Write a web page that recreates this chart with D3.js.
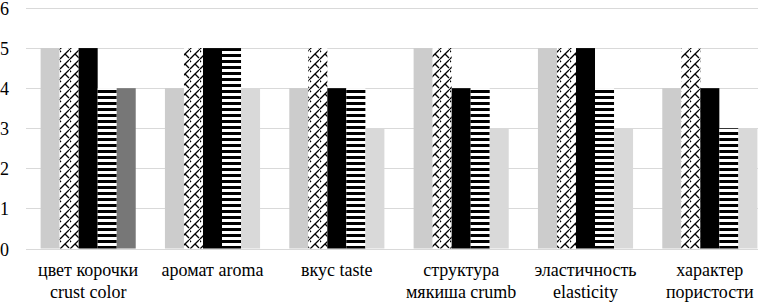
<!DOCTYPE html>
<html>
<head>
<meta charset="utf-8">
<script src="https://cdn.jsdelivr.net/npm/d3@7"></script>
</head>
<body style="margin:0">
<svg id="chart" width="758" height="303" style="font-family: 'Times New Roman', 'Liberation Serif', Times, serif"></svg>
<script>
// categories (two-line labels)
const categories = [
  ["цвет корочки", "crust color"],
  ["аромат aroma"],
  ["вкус taste"],
  ["структура", "мякиша crumb"],
  ["эластичность", "elasticity"],
  ["характер", "пористости"]
];

// series values
const s1 = [5, 4, 4, 5, 5, 4]; // light grey
const s2 = [5, 5, 5, 5, 5, 5]; // zigzag
const s3 = [5, 5, 4, 4, 5, 4]; // black
const s4 = [4, 5, 4, 4, 4, 3]; // horizontal stripes
const s5 = [4, 4, 3, 3, 3, 3]; // grey
const s5colors = ["#777777", "#d9d9d9", "#d9d9d9", "#d9d9d9", "#d9d9d9", "#d9d9d9"];

const yTicks = [0, 1, 2, 3, 4, 5, 6];

const series = [
  { key: "s1", values: s1, fill: () => "#cccccc" },
  { key: "s2", values: s2, fill: () => "url(#zigzag)" },
  { key: "s3", values: s3, fill: () => "#000000" },
  { key: "s4", values: s4, fill: () => "url(#stripes)" },
  { key: "s5", values: s5, fill: (i) => s5colors[i] }
];

const svg = d3.select("#chart");

// patterns
const defs = svg.append("defs");
const zz = defs.append("pattern")
  .attr("id", "zigzag")
  .attr("patternUnits", "userSpaceOnUse")
  .attr("width", 10).attr("height", 10);
zz.append("rect").attr("width", 10).attr("height", 10).attr("fill", "#fff");
zz.append("path")
  .attr("d", "M0,9 L5,4 L9,8 M5,4 L9,0 M-1,0 L1,2 M9,10 L10,9")
  .attr("stroke", "#000").attr("stroke-width", 1.3).attr("fill", "none");

const st = defs.append("pattern")
  .attr("id", "stripes")
  .attr("patternUnits", "userSpaceOnUse")
  .attr("width", 10).attr("height", 6);
st.append("rect").attr("width", 10).attr("height", 6).attr("fill", "#fff");
st.append("rect").attr("width", 10).attr("height", 3).attr("fill", "#000");

// scales
const x = d3.scaleBand()
  .domain(d3.range(categories.length))
  .range([26, 772])
  .paddingInner(0.235)
  .paddingOuter(0.1175);

const y = d3.scaleLinear().domain([0, 6]).range([248.5, 8]);

const xSub = d3.scaleBand()
  .domain(series.map(d => d.key))
  .range([0, x.bandwidth()]);

// gridlines
svg.append("g")
  .selectAll("line")
  .data(yTicks)
  .join("line")
  .attr("x1", 26).attr("x2", 772)
  .attr("y1", d => Math.round(y(d)) + 0.5)
  .attr("y2", d => Math.round(y(d)) + 0.5)
  .attr("stroke", "#d9d9d9")
  .attr("stroke-width", 1);

// y axis labels
svg.append("g")
  .selectAll("text")
  .data(yTicks)
  .join("text")
  .attr("x", 9)
  .attr("y", d => y(d) + 7)
  .attr("text-anchor", "end")
  .style("font-family", '"Times New Roman"')
  .style("font-size", "18px")
  .text(d => d);

// bars
const groups = svg.append("g")
  .selectAll("g")
  .data(series)
  .join("g");

groups.selectAll("rect")
  .data(s => s.values.map((v, i) => ({ v, i, s })))
  .join("rect")
  .attr("x", d => x(d.i) + xSub(d.s.key))
  .attr("width", xSub.bandwidth())
  .attr("y", d => y(d.v))
  .attr("height", d => y(0) - y(d.v))
  .attr("fill", d => d.s.fill(d.i));

// category labels, one text per line
categories.forEach((lines, i) => {
  lines.forEach((line, j) => {
    svg.append("text")
      .attr("x", x(i) + x.bandwidth() / 2)
      .attr("y", 276 + j * 22)
      .attr("text-anchor", "middle")
      .style("font-family", '"Times New Roman"')
      .style("font-size", "18px")
      .text(line);
  });
});
</script>
</body>
</html>
